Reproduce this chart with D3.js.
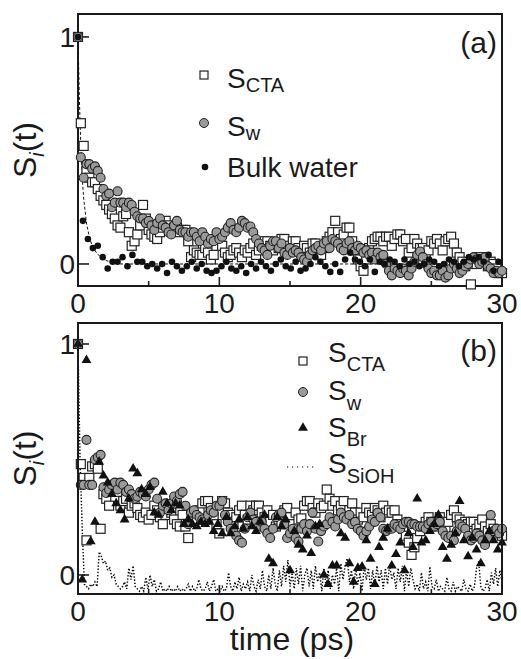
<!DOCTYPE html>
<html>
<head>
<meta charset="utf-8">
<script src="https://cdn.jsdelivr.net/npm/d3@7"></script>
<style>
  body { margin: 0; background: #fff; }
  text { font-family: "Liberation Sans", Arial, Helvetica, sans-serif; fill: #1a1a1a; }
</style>
</head>
<body>
<div id="chart"></div>
<script>
// time axis
const xTicks = [0, 10, 20, 30]
const xMinorTicks = [5, 15, 25]
const yTicks = [0, 1]

// panel (a): sampled every 0.2 ps
const stepA = 0.2
const sCtaA = [1.0,
  0.62, 0.52, 0.41, 0.38, 0.36,   0.36, 0.33, 0.30, 0.28, 0.26,
  0.24, 0.22, 0.20, 0.17, 0.16,   0.21, 0.22, 0.14, 0.08, 0.10,
  0.13, 0.17, 0.26, 0.20, 0.15,   0.13, 0.12, 0.11, 0.14, 0.16,
  0.19, 0.17, 0.15, 0.16, 0.16,   0.14, 0.15, 0.15, 0.10, 0.03,
  0.06, 0.05, 0.04, 0.04, 0.07,   0.05, 0.02, 0.04, 0.08, 0.12,
  0.08, 0.05, 0.03, 0.04, 0.06,   0.07, 0.05, 0.03, 0.06, 0.05,
  0.07, 0.09, 0.04, 0.06, 0.08,   0.10, 0.10, 0.08, 0.06, 0.09,
  0.07, 0.11, 0.11, 0.08, 0.06,   0.10, 0.10, 0.07, 0.05, 0.08,
  0.07, 0.05, 0.09, 0.09, 0.06,   0.04, 0.07, 0.10, 0.12, 0.14,
  0.19, 0.14, 0.11, 0.13, 0.16,   0.16, 0.10, 0.06, 0.02, -0.01,
  -0.03, 0.02, 0.07, 0.10, 0.11,  0.12, 0.12, 0.10, 0.12, 0.12,
  0.08, 0.11, 0.13, 0.13, 0.10,   0.11, 0.05, 0.07, 0.11, 0.09,
  0.07, 0.07, 0.04, 0.06, 0.10,   0.09, 0.11, 0.09, 0.06, 0.10,
  0.11, 0.12, 0.09, 0.05, 0.03,   0.01, -0.01, 0.00, -0.09, 0.01,
  0.00, 0.03, 0.02, 0.01, -0.01,  0.01, 0.00, -0.02, -0.04, -0.04]

const sWA = [1.0,
  0.47, 0.38, 0.44, 0.44, 0.42,   0.43, 0.41, 0.38, 0.33, 0.30,
  0.31, 0.25, 0.27, 0.32, 0.27,   0.27, 0.25, 0.27, 0.26, 0.23,
  0.21, 0.20, 0.20, 0.18, 0.19,   0.17, 0.15, 0.18, 0.20, 0.17,
  0.16, 0.14, 0.13, 0.17, 0.19,   0.15, 0.14, 0.14, 0.12, 0.14,
  0.14, 0.12, 0.10, 0.14, 0.12,   0.09, 0.11, 0.10, 0.14, 0.11,
  0.12, 0.14, 0.16, 0.18, 0.15,   0.14, 0.16, 0.19, 0.18, 0.16,
  0.165, 0.14, 0.11, 0.09, 0.07,  0.06, 0.04, 0.08, 0.10, 0.10,
  0.07, 0.09, 0.05, 0.04, 0.07,   0.05, 0.06, 0.05, 0.03, 0.02,
  0.01, 0.04, 0.06, 0.07, 0.08,   0.06, 0.09, 0.10, 0.07, 0.11,
  0.10, 0.09, 0.07, 0.06, 0.09,   0.10, 0.07, 0.06, 0.08, 0.07,
  0.05, 0.06, 0.04, 0.05, 0.02,   0.05, 0.03, 0.04, 0.00, -0.03,
  -0.05, -0.02, -0.03, -0.04, -0.02, -0.03, -0.05, -0.02, 0.01, 0.04,
  0.055, 0.03, 0.00, -0.02, -0.04, -0.03, -0.05, -0.05, -0.03, -0.06,
  -0.05, -0.02, 0.00, -0.02, -0.04, -0.03, -0.01, 0.00, 0.02, 0.03,
  0.02, 0.00, 0.01, 0.03, -0.01,  -0.02, -0.04, -0.03, -0.04, -0.03]

// bulk water: sampled every 0.35 ps
const stepBulk = 0.35
const bulkA = [1.0, 0.19, 0.11, 0.07, 0.08, 0.03, -0.02, 0.01, 0.01, 0.03,
  -0.01, 0.04, 0.01, 0.01, -0.01, 0.00, -0.02, 0.00, -0.04, 0.01,
  -0.01, -0.03, -0.01, 0.01, -0.02, 0.00, -0.03, -0.04, -0.03, -0.01,
  0.01, -0.02, -0.03, -0.01, -0.04, 0.00, -0.02, 0.01, -0.01, -0.03,
  0.00, 0.02, -0.01, -0.02, 0.01, -0.03, -0.02, 0.00, 0.03, 0.01,
  -0.01, -0.035, 0.00, -0.035, 0.02, 0.05, 0.02, 0.01, -0.01, 0.02,
  -0.035, 0.01, 0.00, 0.02, 0.01, -0.01, 0.02, 0.00, 0.01, -0.01,
  0.00, 0.02, 0.01, -0.01, 0.00, 0.02, 0.01, -0.01, 0.01, 0.03,
  0.02, 0.03, 0.01, 0.04, -0.03, 0.01]

// dashed fit through bulk water
const bulkFitT = [0, 0.1, 0.2, 0.3, 0.4, 0.6, 0.8, 1.0, 1.3, 1.6, 2.0, 2.5, 3.0, 30]
const bulkFitS = [1.0, 0.72, 0.52, 0.38, 0.29, 0.18, 0.12, 0.08, 0.05, 0.03, 0.015, 0.005, 0.0, 0.0]

// panel (b)
const stepB = 0.2
const sCtaB = [1.0,
  0.48, 0.42, 0.15, 0.42, 0.47,   0.48, 0.46, 0.20, 0.35, 0.33,
  0.30, 0.37, 0.39, 0.36, 0.30,   0.32, 0.33, 0.27, 0.30, 0.31,
  0.29, 0.26, 0.25, 0.27, 0.24,   0.26, 0.30, 0.28, 0.25, 0.22,
  0.26, 0.29, 0.27, 0.24, 0.22,   0.21, 0.26, 0.21, 0.16, 0.23,
  0.26, 0.24, 0.28, 0.31, 0.32,   0.32, 0.29, 0.25, 0.22, 0.18,
  0.32, 0.31, 0.27, 0.26, 0.23,   0.25, 0.28, 0.30, 0.26, 0.24,
  0.30, 0.28, 0.30, 0.30, 0.27,   0.25, 0.28, 0.23, 0.26, 0.21,
  0.24, 0.22, 0.28, 0.29, 0.25,   0.22, 0.27, 0.24, 0.245, 0.30,
  0.32, 0.32, 0.29, 0.27, 0.31,   0.29, 0.30, 0.37, 0.33, 0.30,
  0.32, 0.28, 0.30, 0.32, 0.26,   0.28, 0.31, 0.27, 0.24, 0.27,
  0.25, 0.29, 0.27, 0.26, 0.29,   0.28, 0.25, 0.30, 0.27, 0.28,
  0.27, 0.28, 0.24, 0.22, 0.20,   0.17, 0.14, 0.087, 0.12, 0.16,
  0.19, 0.21, 0.23, 0.25, 0.23,   0.22, 0.21, 0.25, 0.22, 0.20,
  0.23, 0.26, 0.28, 0.25, 0.24,   0.21, 0.23, 0.22, 0.23, 0.23,
  0.20, 0.22, 0.24, 0.21, 0.19,   0.22, 0.20, 0.18, 0.19, 0.17]

const sWB = [1.0,
  0.39, 0.39, 0.585, 0.39, 0.39,  0.50, 0.51, 0.52, 0.38, 0.355,
  0.37, 0.39, 0.40, 0.37, 0.40,   0.39, 0.36, 0.37, 0.35, 0.33,
  0.34, 0.36, 0.35, 0.34, 0.37,   0.39, 0.40, 0.33, 0.27, 0.30,
  0.31, 0.28, 0.31, 0.34, 0.32,   0.35, 0.36, 0.30, 0.22, 0.27,
  0.28, 0.26, 0.25, 0.24, 0.23,   0.26, 0.28, 0.27, 0.30, 0.30,
  0.32, 0.26, 0.23, 0.20, 0.19,   0.17, 0.15, 0.14, 0.20, 0.25,
  0.27, 0.24, 0.23, 0.21, 0.23,   0.20, 0.18, 0.16, 0.20, 0.25,
  0.26, 0.27, 0.22, 0.16, 0.18,   0.20, 0.16, 0.145, 0.20, 0.22,
  0.19, 0.22, 0.27, 0.20, 0.145,  0.19, 0.21, 0.22, 0.25, 0.23,
  0.21, 0.24, 0.27, 0.25, 0.24,   0.26, 0.22, 0.23, 0.20, 0.19,
  0.17, 0.19, 0.21, 0.24, 0.23,   0.27, 0.25, 0.20, 0.19, 0.20,
  0.20, 0.22, 0.21, 0.20, 0.22,   0.23, 0.23, 0.22, 0.22, 0.21,
  0.21, 0.21, 0.20, 0.22, 0.23,   0.21, 0.22, 0.23, 0.19, 0.17,
  0.16, 0.17, 0.15, 0.19, 0.22,   0.21, 0.20, 0.17, 0.15, 0.16,
  0.18, 0.17, 0.15, 0.13, 0.16,   0.26, 0.19, 0.20, 0.18, 0.20]

// S_Br: sampled every 0.3 ps
const stepBr = 0.3
const sBrB = [1.0, -0.02, 0.93, 0.145, 0.23, 0.49, 0.43, 0.40, 0.35, 0.31,
  0.28, 0.24, 0.33, 0.46, 0.44, 0.37, 0.35, 0.38, 0.27, 0.26,
  0.36, 0.31, 0.28, 0.31, 0.30, 0.22, 0.24, 0.22, 0.21, 0.23,
  0.22, 0.23, 0.19, 0.22, 0.18, 0.25, 0.18, 0.21, 0.24, 0.20,
  0.25, 0.21, 0.19, 0.23, 0.26, 0.07, 0.05, 0.25, 0.21, 0.24,
  0.02, 0.19, 0.13, 0.11, 0.17, 0.094, 0.21, 0.22, 0.00, -0.04,
  0.04, 0.04, 0.18, 0.16, 0.05, -0.03, 0.03, 0.036, 0.15, 0.07,
  -0.04, 0.12, 0.16, 0.20, 0.04, 0.09, 0.14, 0.02, 0.18, 0.12,
  0.33, 0.14, 0.15, 0.19, 0.22, 0.26, 0.12, 0.07, 0.13, 0.18,
  0.32, 0.15, 0.08, 0.16, 0.11, 0.05, 0.15, 0.19, 0.15, 0.11,
  0.14]

// S_SiOH: sampled every 0.15 ps
const stepSioh = 0.15
const sSiohB = [1.0, 0.48, 0.20, -0.04, -0.05, -0.06, -0.04, -0.05, -0.03, -0.05,
  0.10, 0.08, 0.05, 0.06, 0.02, 0.03, -0.01, 0.00, -0.04, -0.05,
  -0.06, -0.05, -0.03, -0.06, 0.03, -0.02, 0.04, -0.05, -0.06, -0.07,
  -0.05, -0.07, -0.01, -0.06, 0.00, -0.05, -0.02, -0.07, -0.06, -0.03,
  -0.07, -0.06, -0.07, -0.05, -0.07, -0.06, -0.07, -0.05, -0.07, -0.06,
  -0.07, -0.06, -0.04, -0.07, -0.05, -0.07, -0.06, -0.02, -0.06, -0.07,
  -0.06, -0.03, -0.07, -0.05, -0.02, -0.07, -0.06, -0.07, -0.05, -0.07,
  -0.06, 0.01, -0.05, -0.07, -0.03, -0.06, -0.01, -0.07, -0.04, -0.06,
  -0.03, -0.07, 0.00, -0.05, -0.07, -0.02, -0.06, 0.02, -0.05, -0.07,
  0.00, -0.06, 0.03, -0.04, -0.07, 0.02, -0.05, 0.04, -0.03, 0.065,
  -0.05, 0.01, -0.06, 0.03, -0.04, 0.04, -0.07, 0.00, 0.03, -0.05,
  0.02, -0.06, 0.04, -0.03, 0.01, -0.07, 0.03, -0.05, 0.02, -0.06,
  0.00, -0.04, 0.03, -0.07, 0.05, -0.02, 0.04, 0.072, -0.03, 0.02,
  -0.06, 0.03, -0.04, 0.01, -0.07, 0.04, -0.02, 0.03, -0.06, 0.02,
  -0.05, 0.04, -0.03, 0.02, -0.06, 0.03, -0.04, 0.045, -0.02, 0.01,
  -0.06, 0.03, -0.03, 0.04, -0.07, 0.02, -0.05, 0.03, -0.02, -0.06,
  -0.04, -0.07, 0.01, -0.06, -0.03, -0.07, 0.036, -0.05, -0.06, -0.02,
  -0.07, -0.05, -0.06, -0.07, -0.01, -0.06, -0.07, -0.03, -0.07, -0.05,
  -0.06, -0.07, -0.02, -0.06, -0.07, -0.04, -0.07, -0.05, 0.03, 0.058,
  -0.05, -0.07, -0.06, -0.02, -0.07, 0.01, -0.04, 0.03, -0.05, 0.02,
  -0.03]

const toPoints = (vals, step) => vals.map((v, i) => [+(i * step).toFixed(3), v])

const width = 521, height = 659
const svg = d3.select("#chart").append("svg")
  .attr("width", width).attr("height", height)

const gray = "#9a9a9a"
const edge = "#1e1e1e"

function makePanel(top, bottom, yDomain, tag, tagY){
  let x = d3.scaleLinear().domain([0, 30]).range([78, 502])
  let y = d3.scaleLinear().domain(yDomain).range([bottom, top])
  let g = svg.append("g")

  // ticks, all pointing inward
  g.selectAll(".xmaj").data(xTicks).join("line")
    .attr("x1", d => x(d)).attr("x2", d => x(d))
    .attr("y1", bottom).attr("y2", bottom - 9)
    .attr("stroke", edge).attr("stroke-width", 1.6)
  g.selectAll(".xmin").data(xMinorTicks).join("line")
    .attr("x1", d => x(d)).attr("x2", d => x(d))
    .attr("y1", bottom).attr("y2", bottom - 5)
    .attr("stroke", edge).attr("stroke-width", 1.6)
  g.selectAll(".ytk").data(yTicks).join("line")
    .attr("x1", 78).attr("x2", 89)
    .attr("y1", d => y(d)).attr("y2", d => y(d))
    .attr("stroke", edge).attr("stroke-width", 1.6)

  g.selectAll(".xlab").data(xTicks).join("text")
    .attr("x", d => x(d)).attr("y", bottom + 27)
    .attr("text-anchor", "middle").style("font-size", "28px")
    .text(d => d)
  g.selectAll(".ylab").data(yTicks).join("text")
    .attr("x", 75).attr("y", d => y(d)).attr("dy", "0.36em")
    .attr("text-anchor", "end").style("font-size", "28px")
    .text(d => d)

  // y title
  let yt = g.append("text")
    .attr("transform", `translate(36, ${(top + bottom) / 2}) rotate(-90)`)
    .attr("text-anchor", "middle").style("font-size", "32px")
  yt.append("tspan").text("S")
  yt.append("tspan").text("i").attr("dy", 8).style("font-size", "20px").style("font-style", "italic")
  yt.append("tspan").text("(t)").attr("dy", -8)

  g.append("text").attr("x", 497).attr("y", tagY)
    .attr("text-anchor", "end").style("font-size", "30px").text(tag)

  return {g, x, y, top, bottom}
}

function frame(p){
  p.g.append("rect").attr("x", 78).attr("y", p.top)
    .attr("width", 424).attr("height", p.bottom - p.top)
    .attr("fill", "none").attr("stroke", "#1a1a1a").attr("stroke-width", 2)
}

function squares(p, pts){
  p.g.append("g").selectAll("rect").data(pts).join("rect")
    .attr("x", d => p.x(d[0]) - 4.5).attr("y", d => p.y(d[1]) - 4.5)
    .attr("width", 9).attr("height", 9)
    .attr("fill", "#fff").attr("stroke", "#222").attr("stroke-width", 1.2)
}
function circles(p, pts){
  p.g.append("g").selectAll("circle").data(pts).join("circle")
    .attr("cx", d => p.x(d[0])).attr("cy", d => p.y(d[1])).attr("r", 4.5)
    .attr("fill", gray).attr("stroke", "#222").attr("stroke-width", 1.1)
}

// ---------- panel (a)
const pa = makePanel(14, 286, [-0.097, 1.101], "(a)", 53)
frame(pa)

pa.g.append("path")
  .datum(bulkFitT.map((t, i) => [t, bulkFitS[i]]))
  .attr("d", d3.line().x(d => pa.x(d[0])).y(d => pa.y(d[1])))
  .attr("fill", "none").attr("stroke", "#111").attr("stroke-width", 1)
  .attr("stroke-dasharray", "3,2")

squares(pa, toPoints(sCtaA, stepA))
circles(pa, toPoints(sWA, stepA))
pa.g.append("g").selectAll("circle").data(toPoints(bulkA, stepBulk)).join("circle")
  .attr("cx", d => pa.x(d[0])).attr("cy", d => pa.y(d[1])).attr("r", 3.3)
  .attr("fill", "#111")

// legend (a)
const legA = pa.g.append("g")
legA.append("rect").attr("x", 200).attr("y", 71).attr("width", 8).attr("height", 8)
  .attr("fill", "#fff").attr("stroke", "#222").attr("stroke-width", 1.2)
legA.append("circle").attr("cx", 204).attr("cy", 123).attr("r", 4.5)
  .attr("fill", gray).attr("stroke", "#222")
legA.append("circle").attr("cx", 205).attr("cy", 167).attr("r", 3.3).attr("fill", "#111")

function legendText(g, x, y, main, sub, subDy){
  let t = g.append("text").attr("x", x).attr("y", y).style("font-size", "28px")
  t.append("tspan").text(main)
  if (sub) t.append("tspan").text(sub).attr("dy", subDy).style("font-size", "20px")
}
legendText(legA, 227, 88, "S", "CTA", 4)
legendText(legA, 227, 136, "S", "w", 4)
legendText(legA, 227, 177, "Bulk water")

// ---------- panel (b)
const pb = makePanel(323, 594, [-0.0823, 1.0909], "(b)", 361)

pb.g.append("path")
  .datum(toPoints(sSiohB, stepSioh))
  .attr("d", d3.line().x(d => pb.x(d[0])).y(d => pb.y(d[1])))
  .attr("fill", "none").attr("stroke", "#000").attr("stroke-width", 1.4)
  .attr("stroke-dasharray", "1.4,1.8")

squares(pb, toPoints(sCtaB, stepB))
circles(pb, toPoints(sWB, stepB))
const tri = d3.symbol().type(d3.symbolTriangle).size(42)
pb.g.append("g").selectAll("path").data(toPoints(sBrB, stepBr)).join("path")
  .attr("transform", d => `translate(${pb.x(d[0])}, ${pb.y(d[1])})`)
  .attr("d", tri).attr("fill", "#111")
frame(pb)

// legend (b)
const legB = pb.g.append("g")
legB.append("rect").attr("x", 299).attr("y", 357).attr("width", 8).attr("height", 8)
  .attr("fill", "#fff").attr("stroke", "#222").attr("stroke-width", 1.2)
legB.append("circle").attr("cx", 303).attr("cy", 392).attr("r", 4.5)
  .attr("fill", gray).attr("stroke", "#222")
legB.append("path").attr("transform", "translate(303, 428)").attr("d", tri).attr("fill", "#111")
legB.append("line").attr("x1", 287).attr("x2", 314).attr("y1", 467).attr("y2", 467)
  .attr("stroke", "#000").attr("stroke-width", 1.2).attr("stroke-dasharray", "1.2,3.8")
legendText(legB, 328, 362, "S", "CTA", 9)
legendText(legB, 328, 400, "S", "w", 10)
legendText(legB, 328, 437, "S", "Br", 9)
legendText(legB, 328, 473, "S", "SiOH", 10)

svg.append("text").attr("x", 292).attr("y", 650)
  .attr("text-anchor", "middle").style("font-size", "32px").text("time (ps)")
</script>
</body>
</html>
